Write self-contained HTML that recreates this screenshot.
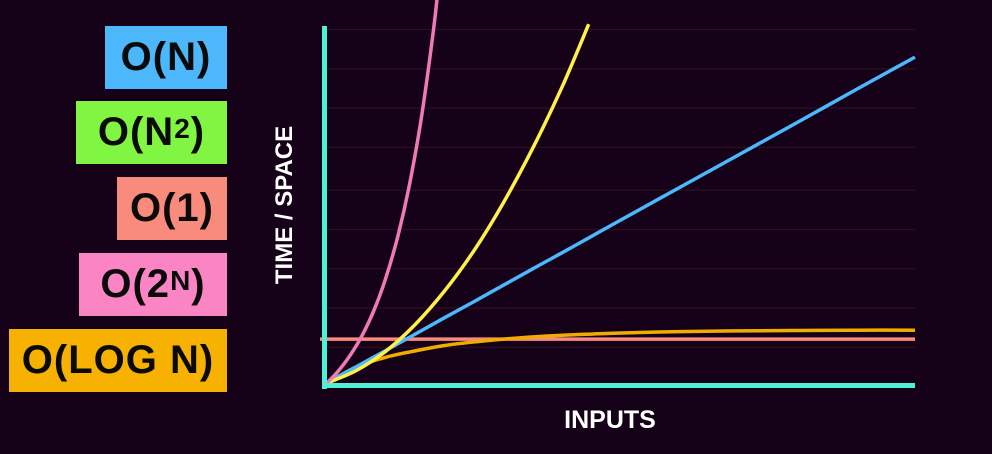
<!DOCTYPE html>
<html><head><meta charset="utf-8"><style>
html,body{margin:0;padding:0;background:#150118;width:992px;height:454px;overflow:hidden}
.lab{position:absolute;right:765px;height:63px;display:flex;align-items:center;justify-content:center;font-family:"Liberation Sans",sans-serif;font-weight:bold;font-size:40px;color:#0a0a0a;letter-spacing:1px}
sup{font-size:28px;position:relative;top:-4px;vertical-align:top}
</style></head><body>
<div class="lab" style="top:26px;width:122px;background:#4cb8fb">O(N)</div>
<div class="lab" style="top:101px;width:151px;background:#80f542">O(N<sup>2</sup>)</div>
<div class="lab" style="top:177px;width:110px;background:#f98b7c">O(1)</div>
<div class="lab" style="top:253px;width:148px;background:#fb84c4">O(2<sup>N</sup>)</div>
<div class="lab" style="top:329px;width:218px;background:#f7b100">O(LOG N)</div>
<svg id="chart" width="992" height="454" style="position:absolute;left:0;top:0">
<text x="0" y="0" transform="translate(292,205) rotate(-90)" text-anchor="middle" font-family="Liberation Sans, sans-serif" font-weight="bold" font-size="24" fill="#fff">TIME / SPACE</text>
<text x="610" y="428" text-anchor="middle" font-family="Liberation Sans, sans-serif" font-weight="bold" font-size="25" fill="#fff">INPUTS</text>
</svg>
<script>
const xs=[0,0.5,1,1.5,2,2.5,3,3.5,4,4.5,5,6,7,8,9,10];
const linear=[0,0.46,0.91,1.37,1.83,2.28,2.74,3.2,3.65,4.11,4.57,5.48,6.39,7.3,8.22,9.13];
const quadX=[0,0.5,1,1.5,2,2.5,3,3.5,4,4.45];
const quadY=[0,0.35,0.89,1.64,2.58,3.71,5.05,6.58,8.3,10.05];
const expX=[0,0.2,0.4,0.6,0.8,1,1.2,1.4,1.6,1.8,1.9];
const expY=[0,0.35,0.79,1.34,2.04,2.94,4.08,5.53,7.38,9.74,11.2];
const constY=[1.23,1.23,1.23,1.23,1.23,1.23,1.23,1.23,1.23,1.23,1.23,1.23,1.23,1.23,1.23,1.23];
const logY=[0,0.45,0.72,0.9,1.05,1.15,1.23,1.29,1.34,1.37,1.4,1.44,1.46,1.47,1.48,1.48];
const gridY=[1.0,2.1,3.2,4.3,5.4,6.6,7.7,8.8,9.9];
const svg=document.getElementById('chart');
const X=v=>327+v*58.8, Y=v=>383-v*35.7;
const NS='http://www.w3.org/2000/svg';
function mk(t,a){const e=document.createElementNS(NS,t);for(const k in a)e.setAttribute(k,a[k]);svg.appendChild(e);return e;}
gridY.forEach(g=>{const l=mk('line',{x1:327,x2:915,y1:Y(g),y2:Y(g),stroke:'#2c1022','stroke-width':1.2});

});
const clip=mk('clipPath',{id:'c'});const r=document.createElementNS(NS,'rect');
r.setAttribute('x',300);r.setAttribute('y',0);r.setAttribute('width',620);r.setAttribute('height',390);clip.appendChild(r);
function smooth(pts){let d='M'+pts[0][0].toFixed(1)+','+pts[0][1].toFixed(1);
for(let i=0;i<pts.length-1;i++){const p0=pts[i-1]||pts[i],p1=pts[i],p2=pts[i+1],p3=pts[i+2]||p2;
const c1=[p1[0]+(p2[0]-p0[0])/6,p1[1]+(p2[1]-p0[1])/6],c2=[p2[0]-(p3[0]-p1[0])/6,p2[1]-(p3[1]-p1[1])/6];
d+='C'+c1.map(v=>v.toFixed(1)).join(',')+' '+c2.map(v=>v.toFixed(1)).join(',')+' '+p2[0].toFixed(1)+','+p2[1].toFixed(1);}
return d;}
function line(xv,yv,col,name){const d=smooth(xv.map((x,i)=>[X(x),Y(yv[i])]));
const p=mk('path',{d:d,fill:'none',stroke:col,'stroke-width':3.5,'clip-path':'url(#c)','stroke-linejoin':'round'});

}
const c1=mk('line',{x1:320,x2:915,y1:Y(constY[0]),y2:Y(constY[0]),stroke:'#f98b7c','stroke-width':3.5});


line(xs,logY,'#f0ad00','series-ologn');
line(xs,linear,'#4cb8fb','series-on');
line(quadX,quadY,'#fff04a','series-on2');
line(expX,expY,'#f07ab8','series-o2n');
const ya=mk('line',{x1:324.5,x2:324.5,y1:26,y2:389,stroke:'#4ef0d6','stroke-width':5});


const xa=mk('line',{x1:322,x2:915,y1:385.5,y2:385.5,stroke:'#4ef0d6','stroke-width':5});


</script>
</body></html>
